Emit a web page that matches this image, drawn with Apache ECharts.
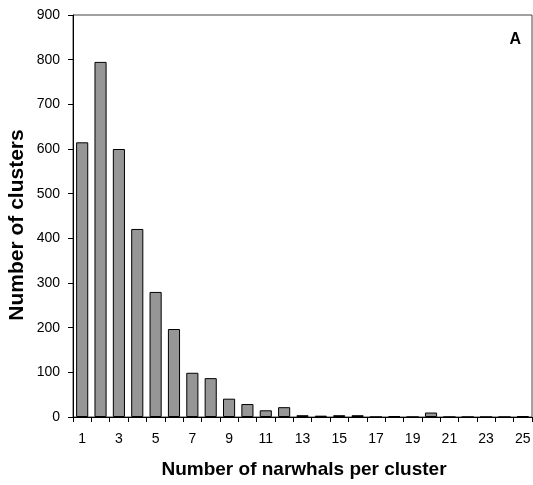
<!DOCTYPE html>
<html>
<head>
<meta charset="utf-8">
<script src="https://cdn.jsdelivr.net/npm/echarts@6/dist/echarts.min.js"></script>
<style>
  html, body { margin: 0; padding: 0; background: #fff; }
  #chart { width: 533px; height: 485px; }
</style>
</head>
<body>
<div id="chart"></div>
<script>
// Cluster size (narwhals per cluster) and how many clusters had that size
const clusterSizes = ['1','2','3','4','5','6','7','8','9','10','11','12','13','14','15','16','17','18','19','20','21','22','23','24','25'];
const clusterCounts = [615, 795, 600, 421, 280, 197, 99, 87, 41, 29, 15, 22, 4, 3, 4, 4, 0, 2, 0, 10, 0, 0, 0, 0, 2];
const yTicks = { min: 0, max: 900, step: 100 };
const yTitle = 'Number of clusters';

const fontFamily = 'Liberation Sans, Arial, sans-serif';
const chart = echarts.init(document.getElementById('chart'));

chart.setOption({
  animation: false,
  backgroundColor: '#fff',
  grid: {
    left: 73, right: 1, top: 15, bottom: 68,
    outerBoundsMode: 'none',
    containLabel: false,
    show: true, borderColor: '#444', borderWidth: 1, backgroundColor: 'transparent'
  },
  graphic: [{
    type: 'text', right: 12, top: 32,
    style: { text: 'A', fontFamily: fontFamily, fontWeight: 'bold', fontSize: 16, fill: '#000' }
  }, {
    // vertical y-axis title, placed beside the tick labels
    type: 'text', x: 17, y: 225, rotation: Math.PI / 2,
    style: {
      text: yTitle, fontFamily: fontFamily, fontWeight: 'bold', fontSize: 21, fill: '#000',
      align: 'center', verticalAlign: 'middle'
    }
  }],
  xAxis: {
    type: 'category',
    data: clusterSizes,
    name: 'Number of narwhals per cluster',
    nameLocation: 'middle',
    nameGap: 43,
    nameTextStyle: { fontFamily: fontFamily, fontWeight: 'bold', fontSize: 19, color: '#000', padding: [0, 0, 0, 3] },
    axisLine: { lineStyle: { color: '#000', width: 1 } },
    axisTick: { show: true, interval: 0, length: 5, lineStyle: { color: '#000' } },
    axisLabel: { interval: 1, margin: 15, fontFamily: fontFamily, fontSize: 14, color: '#000' },
    splitLine: { show: false }
  },
  yAxis: {
    type: 'value',
    min: yTicks.min, max: yTicks.max, interval: yTicks.step,
    axisLine: { show: true, lineStyle: { color: '#000', width: 1 } },
    axisTick: { show: true, length: 5, lineStyle: { color: '#000' } },
    axisLabel: { margin: 13, fontFamily: fontFamily, fontSize: 14, color: '#000' },
    splitLine: { show: false }
  },
  series: [{
    type: 'bar',
    data: clusterCounts,
    barCategoryGap: '34%',
    itemStyle: { color: '#969696', borderColor: '#000', borderWidth: 1 }
  }]
});
</script>
</body>
</html>
